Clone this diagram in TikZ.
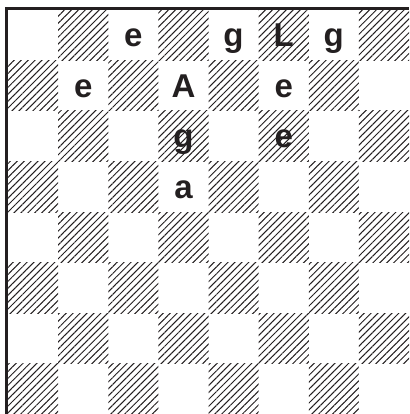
\documentclass[tikz,border=0pt]{standalone}
\usepackage{fontspec}
\setmainfont{Liberation Sans}
\usetikzlibrary{patterns.meta}
\definecolor{ink}{HTML}{231F20}
\begin{document}
\begin{tikzpicture}[x=1pt,y=-1pt,
  darksq/.style={pattern={Lines[angle=45,distance=4.9pt,line width=1pt]},pattern color=ink},
  piece/.style={font=\bfseries\fontsize{33}{33}\selectfont, text=ink, inner sep=0pt, anchor=base},
  frame/.style={line width=3pt, draw=ink, line join=miter}]
\useasboundingbox (0,0) rectangle (409,414);
\foreach \r in {0,...,7}{\foreach \c in {0,...,7}{
  \pgfmathparse{int(mod(\r+\c,2))}
  \ifnum\pgfmathresult=1
    \path[darksq] ({8+50.125*\c},{10+50.5*\r}) rectangle ({8+50.125*(\c+1)},{10+50.5*(\r+1)});
  \fi}}
\draw[frame] (6.5,414) -- (6.5,8.5) -- (409,8.5);
\newcommand{\placepiece}[4]{\node[piece] (#1) at ({8+50.125*(#2+0.5)},{10+50.5*(#3+0.5)+11.5}) {#4};}
\placepiece{p20}{2}{0}{e}
\placepiece{p40}{4}{0}{g}
\placepiece{p50}{5}{0}{L}
\placepiece{p60}{6}{0}{g}
\placepiece{p11}{1}{1}{e}
\placepiece{p31}{3}{1}{A}
\placepiece{p51}{5}{1}{e}
\placepiece{p32}{3}{2}{g}
\placepiece{p52}{5}{2}{e}
\placepiece{p33}{3}{3}{a}
\end{tikzpicture}
\end{document}
